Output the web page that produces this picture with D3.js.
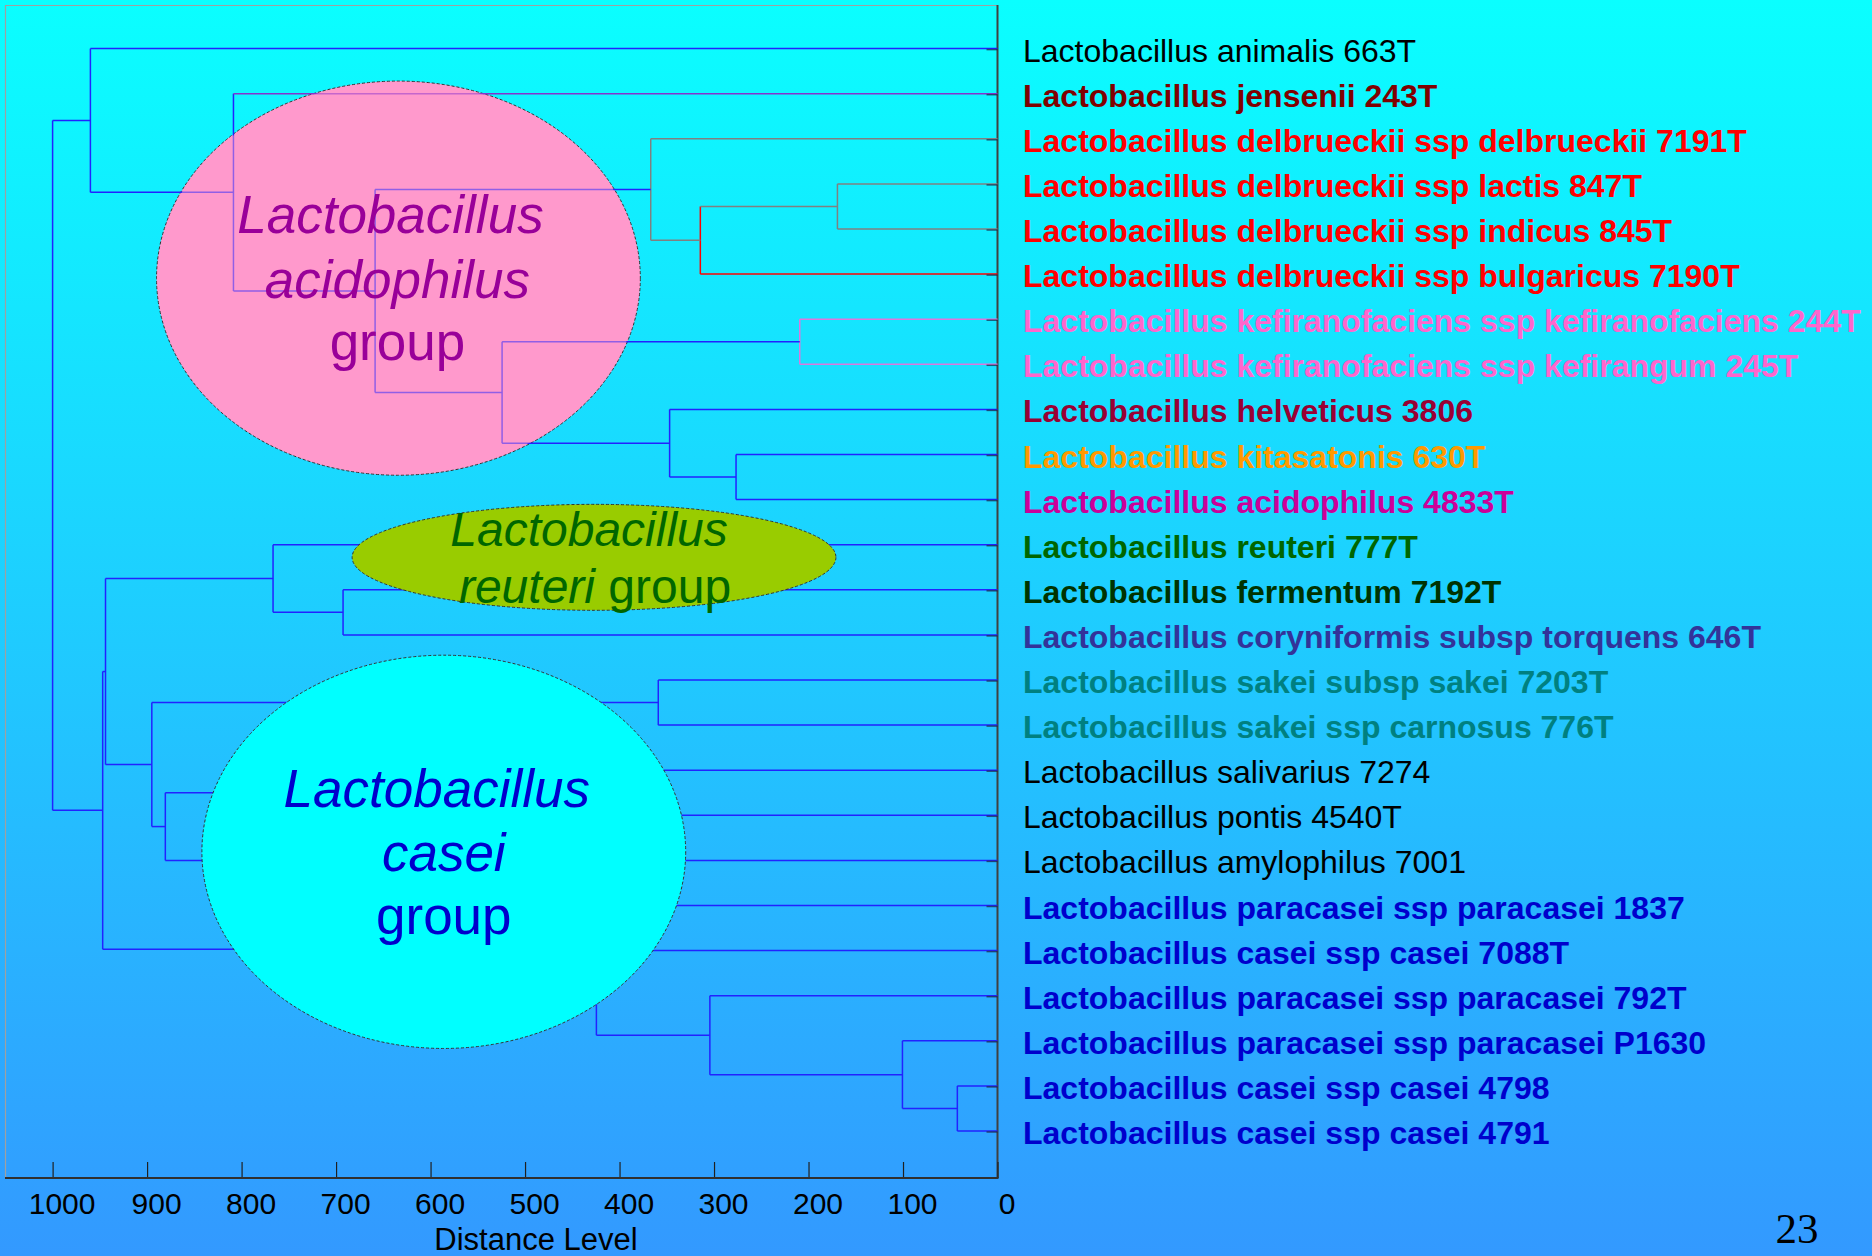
<!DOCTYPE html>
<html>
<head>
<meta charset="utf-8">
<script src="https://cdn.jsdelivr.net/npm/d3@7"></script>
<style>
body { margin: 0; overflow: hidden; }
svg { display: block; font-family: "Liberation Sans", Arial, sans-serif; }
</style>
</head>
<body>
<script>
// leaves, top to bottom
var leafNames = [
	'Lactobacillus animalis 663T',
	'Lactobacillus jensenii 243T',
	'Lactobacillus delbrueckii ssp delbrueckii 7191T',
	'Lactobacillus delbrueckii ssp lactis 847T',
	'Lactobacillus delbrueckii ssp indicus 845T',
	'Lactobacillus delbrueckii ssp bulgaricus 7190T',
	'Lactobacillus kefiranofaciens ssp kefiranofaciens 244T',
	'Lactobacillus kefiranofaciens ssp kefirangum 245T',
	'Lactobacillus helveticus 3806',
	'Lactobacillus kitasatonis 630T',
	'Lactobacillus acidophilus 4833T',
	'Lactobacillus reuteri 777T',
	'Lactobacillus fermentum 7192T',
	'Lactobacillus coryniformis subsp torquens 646T',
	'Lactobacillus sakei subsp sakei 7203T',
	'Lactobacillus sakei ssp carnosus 776T',
	'Lactobacillus salivarius 7274',
	'Lactobacillus pontis 4540T',
	'Lactobacillus amylophilus 7001',
	'Lactobacillus paracasei ssp paracasei 1837',
	'Lactobacillus casei ssp casei 7088T',
	'Lactobacillus paracasei ssp paracasei 792T',
	'Lactobacillus paracasei ssp paracasei P1630',
	'Lactobacillus casei ssp casei 4798',
	'Lactobacillus casei ssp casei 4791'
];
var leafGroup = ['animalis','jensenii','delbrueckii','delbrueckii','delbrueckii','delbrueckii',
	'kefiranofaciens','kefiranofaciens','helveticus','kitasatonis','acidophilus','reuteri',
	'fermentum','coryniformis','sakei','sakei','other','other','other',
	'casei','casei','casei','casei','casei','casei'];

// hclust style merges: negative = leaf number (1-based), positive = earlier merge row
var merges = [
	[-24,-25], [-23,1], [-4,-5], [-7,-8], [-10,-11], [-22,2], [3,-6], [-9,5],
	[-15,-16], [-3,7], [-21,6], [4,8], [-17,-18], [-20,11], [10,12], [-13,-14],
	[-12,16], [-2,15], [13,-19], [9,19], [17,20], [21,14], [-1,18], [23,22]
];
var mergeHeight = [42.5, 100.6, 169.4, 209.3, 276.7, 304.4, 314.5, 347,
	359, 367, 424.5, 524.3, 560, 640, 658.7, 692.6,
	766.7, 808.6, 880.7, 895, 944, 947, 960, 1000];

var distTicks = [1000,900,800,700,600,500,400,300,200,100,0];

// group ellipses (centre in distance / row units)
var groupNames = ['acidophilus', 'reuteri', 'casei'];
var groupCx = [634, 427, 586];
var groupCy = [5.09, 11.28, 17.81];
var groupRx = [256, 256, 256];
var groupRy = [4.37, 1.175, 4.36];

var width = 1872, height = 1256;

var labelColor = {
	animalis:'#000000', jensenii:'#800000', delbrueckii:'#ff0000', kefiranofaciens:'#ff66cc',
	helveticus:'#990033', kitasatonis:'#ff9900', acidophilus:'#cc0099', reuteri:'#006600',
	fermentum:'#003300', coryniformis:'#333399', sakei:'#008080', other:'#000000', casei:'#0000cc'
};
var lineBlue = '#2222ff';
// vertical / incoming-horizontal colours of special nodes
var vColor = { M3:'#808080', M7:'#ff0000', M10:'#808080', M4:'#dd77dd' };
var hColor = { L2:'#8833cc', L3:'#808080', L4:'#808080', L5:'#808080', L6:'#ff0000',
	L7:'#dd77dd', L8:'#dd77dd', M3:'#808080', M7:'#808080' };

var svg = d3.select('body').append('svg')
	.attr('width', width)
	.attr('height', height);

var defs = svg.append('defs');
var grad = defs.append('linearGradient')
	.attr('id','bg')
	.attr('x1',0).attr('y1',0).attr('x2',0).attr('y2',1);
grad.append('stop').attr('offset','0%').attr('stop-color','#0affff');
grad.append('stop').attr('offset','100%').attr('stop-color','#3399ff');

svg.append('rect')
	.attr('width', width)
	.attr('height', height)
	.attr('fill','url(#bg)');

var x = d3.scaleLinear().domain([1000, 0]).range([52.6, 997.5]);
var y = d3.scalePoint().domain(leafNames).range([48.6, 1131]);
var yRow = d3.scaleLinear().domain([0, leafNames.length - 1]).range([48.6, 1131]);
var frame = {left: 5, top: 5, right: 997.5, bottom: 1178};

// frame
svg.append('line')
	.attr('x1', frame.left).attr('x2', frame.right)
	.attr('y1', frame.top + 0.5).attr('y2', frame.top + 0.5)
	.style('stroke','#a0a0a0').style('stroke-width',1.2);
svg.append('line')
	.attr('x1', frame.left + 0.5).attr('x2', frame.left + 0.5)
	.attr('y1', frame.top).attr('y2', frame.bottom)
	.style('stroke','#a0a0a0').style('stroke-width',1.2);
svg.append('line')
	.attr('x1', frame.right).attr('x2', frame.right)
	.attr('y1', frame.top).attr('y2', frame.bottom)
	.style('stroke','#404040').style('stroke-width',2);

// build the tree
function build(id) {
	if (id < 0) return {key: 'L' + (-id), leaf: -id - 1};
	var m = merges[id - 1];
	return {key: 'M' + id, h: mergeHeight[id - 1], children: [build(m[0]), build(m[1])]};
}
var root = d3.hierarchy(build(merges.length));
root.eachAfter(function(d) {
	if (d.children) {
		d.px = x(d.data.h);
		d.py = d3.mean(d.children, function(c) { return c.py; });
	} else {
		d.px = x(0);
		d.py = y(leafNames[d.data.leaf]);
	}
});

var ell = groupNames.map(function(g, i) {
	return {
		name: g,
		cx: x(groupCx[i]), cy: yRow(groupCy[i]),
		rx: x(0) - x(groupRx[i]),
		ry: yRow(groupRy[i]) - yRow(0)
	};
});

// pink ellipse sits under the lines
svg.append('ellipse')
	.attr('cx', ell[0].cx).attr('cy', ell[0].cy)
	.attr('rx', ell[0].rx).attr('ry', ell[0].ry)
	.attr('fill','#ff99cc')
	.style('stroke','#333').style('stroke-width',1).style('stroke-dasharray','3,2');

var gTree = svg.append('g').attr('class','tree');
root.descendants().forEach(function(d) {
	if (d.children) {
		gTree.append('line')
			.attr('x1', d.px).attr('x2', d.px)
			.attr('y1', d.children[0].py).attr('y2', d.children[1].py)
			.style('stroke', vColor[d.data.key] || lineBlue)
			.style('stroke-width', 1.5);
	}
	if (d.parent) {
		gTree.append('line')
			.attr('x1', d.parent.px).attr('x2', d.px)
			.attr('y1', d.py).attr('y2', d.py)
			.style('stroke', hColor[d.data.key] || lineBlue)
			.style('stroke-width', 1.5);
	}
});
// leaf ticks on the right edge
gTree.selectAll('.leaftick')
	.data(leafNames)
	.enter().append('line')
	.attr('class','leaftick')
	.attr('x1', x(0) - 11).attr('x2', x(0))
	.attr('y1', function(d) { return y(d) + 1; })
	.attr('y2', function(d) { return y(d) + 1; })
	.style('stroke','#202040').style('stroke-width',1.5).style('opacity',0.7);

// half transparent pink over the lines
svg.append('ellipse')
	.attr('cx', ell[0].cx).attr('cy', ell[0].cy)
	.attr('rx', ell[0].rx - 1).attr('ry', ell[0].ry - 1)
	.attr('fill','#ff99cc')
	.style('opacity',0.5);

svg.append('ellipse')
	.attr('cx', ell[1].cx).attr('cy', ell[1].cy)
	.attr('rx', ell[1].rx).attr('ry', ell[1].ry)
	.attr('fill','#99cc00')
	.style('stroke','#333').style('stroke-width',1).style('stroke-dasharray','3,2');

svg.append('ellipse')
	.attr('cx', ell[2].cx).attr('cy', ell[2].cy)
	.attr('rx', ell[2].rx).attr('ry', ell[2].ry)
	.attr('fill','#00ffff')
	.style('stroke','#333').style('stroke-width',1).style('stroke-dasharray','3,2');

// group texts
function groupText(e, color, size, lines, offs, dxs) {
	var t = svg.append('g').style('font-size', size + 'px').style('fill', color);
	lines.forEach(function(parts, i) {
		var tx = t.append('text')
			.attr('x', e.cx + dxs[i])
			.attr('y', e.cy + offs[i])
			.style('text-anchor','middle');
		parts.forEach(function(p) {
			tx.append('tspan').style('font-style', p[1] ? 'italic' : 'normal').text(p[0]);
		});
	});
}
groupText(ell[0], '#990099', 53,
	[[['Lactobacillus',1]], [['acidophilus',1]], [['group',0]]], [-45, 19.5, 81.5], [-8, -1, -1]);
groupText(ell[1], '#006600', 48,
	[[['Lactobacillus',1]], [['reuteri',1], [' group',0]]], [-11.5, 45.5], [-5, 1]);
groupText(ell[2], '#0000cc', 53,
	[[['Lactobacillus',1]], [['casei',1]], [['group',0]]], [-44.5, 19, 82], [-7, 0, 0]);

// leaf labels
svg.append('g').attr('class','labels')
	.selectAll('text')
	.data(leafNames)
	.enter().append('text')
	.attr('x', 1023)
	.attr('y', function(d) { return y(d) + 13; })
	.style('font-size','32px')
	.style('font-weight', function(d, i) { return labelColor[leafGroup[i]] === '#000000' ? 'normal' : 'bold'; })
	.style('fill', function(d, i) { return labelColor[leafGroup[i]]; })
	.text(function(d) { return d; });

// axis
var gAxis = svg.append('g')
	.attr('class','axis')
	.attr('transform','translate(0,' + frame.bottom + ')')
	.call(d3.axisBottom(x).tickValues(distTicks).tickSize(-16).tickPadding(15).tickFormat(d3.format('d')));
gAxis.select('.domain').remove();
gAxis.selectAll('.tick line').style('stroke','#202020').style('stroke-width',1.2);
gAxis.selectAll('.tick text')
	.attr('dx', 9)
	.style('font-size','30px')
	.style('font-family','"Liberation Sans", Arial, sans-serif')
	.style('fill','#000');
svg.append('line')
	.attr('x1', frame.left).attr('x2', frame.right + 1)
	.attr('y1', frame.bottom).attr('y2', frame.bottom)
	.style('stroke','#303030').style('stroke-width',2);

svg.append('text')
	.attr('x', 536)
	.attr('y', 1250)
	.style('text-anchor','middle')
	.style('font-size','31px')
	.text('Distance Level');

svg.append('text')
	.attr('x', 1797)
	.attr('y', 1243)
	.style('text-anchor','middle')
	.style('font-family','"Liberation Serif", "DejaVu Serif", serif')
	.style('font-size','43px')
	.text('23');
</script>
</body>
</html>
